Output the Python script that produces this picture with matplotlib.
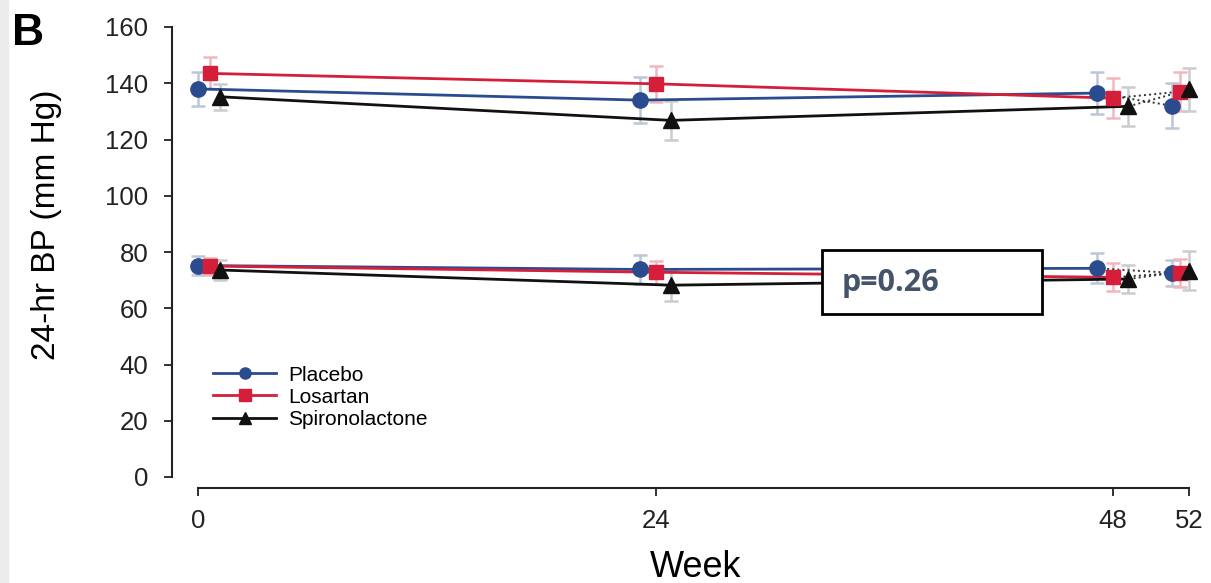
import numpy as np
import matplotlib.pyplot as plt
from matplotlib.patches import Rectangle

plt.rcParams['font.family'] = ['Liberation Sans', 'DejaVu Sans']

weeks = [0, 24, 48, 52]
groups = ['Placebo', 'Losartan', 'Spironolactone']

# systolic / diastolic means and SD bars per group
sys_mean = {
    'Placebo':        [138.0, 134.0, 136.5, 132.0],
    'Losartan':       [143.5, 139.8, 134.7, 137.0],
    'Spironolactone': [135.2, 126.8, 131.8, 137.8],
}
sys_err = {
    'Placebo':        [6.0, 8.3, 7.6, 8.0],
    'Losartan':       [5.7, 6.5, 7.0, 7.0],
    'Spironolactone': [4.6, 7.0, 7.0, 7.5],
}
dia_mean = {
    'Placebo':        [75.2, 73.8, 74.2, 72.6],
    'Losartan':       [75.0, 72.8, 71.0, 72.6],
    'Spironolactone': [73.6, 68.2, 70.4, 73.4],
}
dia_err = {
    'Placebo':        [3.5, 5.0, 5.3, 4.6],
    'Losartan':       [3.0, 4.0, 5.0, 5.0],
    'Spironolactone': [3.5, 5.5, 5.0, 6.8],
}

# horizontal dodge so the groups don't sit on top of each other
dodge = {
    'Placebo':        [0.0, -0.82, -0.86, -0.93],
    'Losartan':       [0.63, 0.0, 0.0, -0.5],
    'Spironolactone': [1.15, 0.8, 0.8, 0.0],
}
style = {
    'Placebo':        dict(color='#2b4b8f', marker='o', ms=11, ecolor='#bcc6d9'),
    'Losartan':       dict(color='#d51f3a', marker='s', ms=9.5, ecolor='#f1b6be'),
    'Spironolactone': dict(color='#111111', marker='^', ms=11, ecolor='#cccccc'),
}

fig = plt.figure(figsize=(12.11, 5.83), dpi=100)
fig.patches.append(Rectangle((0, 0), 8 / 1211, 1, transform=fig.transFigure,
                             color='#ececec', zorder=0))
ax = fig.add_axes([172 / 1211, 1 - 477 / 583, 1027 / 1211, 450 / 583])

for g in groups:
    s = style[g]
    x = np.array(weeks) + np.array(dodge[g])
    for means, errs in ((sys_mean[g], sys_err[g]), (dia_mean[g], dia_err[g])):
        m = np.array(means)
        ax.errorbar(x, m, yerr=errs, fmt='none', ecolor=s['ecolor'],
                    elinewidth=1.8, capsize=5, capthick=1.8, zorder=2)
        ax.plot(x[:3], m[:3], '-', color=s['color'], lw=2, zorder=3)
        ax.plot(x[2:], m[2:], ':', color='#333333', lw=1.4, zorder=3)
        ax.plot(x, m, linestyle='none', marker=s['marker'], ms=s['ms'],
                color=s['color'], zorder=4, clip_on=False)

# legend handles
handles = [ax.plot([], [], '-', color=style[g]['color'], lw=2,
                   marker=style[g]['marker'], ms=8)[0] for g in groups]
ax.legend(handles, groups, loc='upper left', bbox_to_anchor=(0.026, 0.28),
          frameon=False, fontsize=15, handlelength=3.0, handletextpad=0.6,
          labelspacing=0.15, borderpad=0.2)

ax.set_xlim(-1.36, 52.5)
ax.set_ylim(0, 160)
ax.set_xticks(weeks)
ax.set_yticks(np.arange(0, 161, 20))
ax.spines['top'].set_visible(False)
ax.spines['right'].set_visible(False)
ax.spines['bottom'].set_bounds(0, 52)
ax.spines['bottom'].set_position(('outward', 8))
ax.spines['left'].set_bounds(0, 160)
for sp in ('left', 'bottom'):
    ax.spines[sp].set_linewidth(1.5)
    ax.spines[sp].set_color('#222222')
ax.tick_params(direction='out', length=6, width=1.3, labelsize=18.5,
               colors='#222222')
ax.tick_params(axis='y', pad=11)
ax.tick_params(axis='x', pad=9)
ax.set_xlabel('Week', fontsize=26, va='baseline')
ax.xaxis.set_label_coords(0.51, -0.222)
ax.set_ylabel('24-hr BP (mm Hg)', fontsize=24)
ax.yaxis.set_label_coords(-0.107, 0.56)

fig.text(12 / 1211, 1 - 45 / 583, 'B', fontsize=32, fontweight='bold')

# p-value box
ax.add_patch(Rectangle((0.633, 0.362), 0.214, 0.142, transform=ax.transAxes,
                       facecolor='white', edgecolor='black', lw=2, zorder=6))
ax.text(0.652, 0.431, 'p=0.26', transform=ax.transAxes, fontsize=22,
        fontweight='bold', color='#44546a', va='center', zorder=7,
        family=['Open Sans', 'DejaVu Sans'])

fig.savefig('out.png', dpi=100)
